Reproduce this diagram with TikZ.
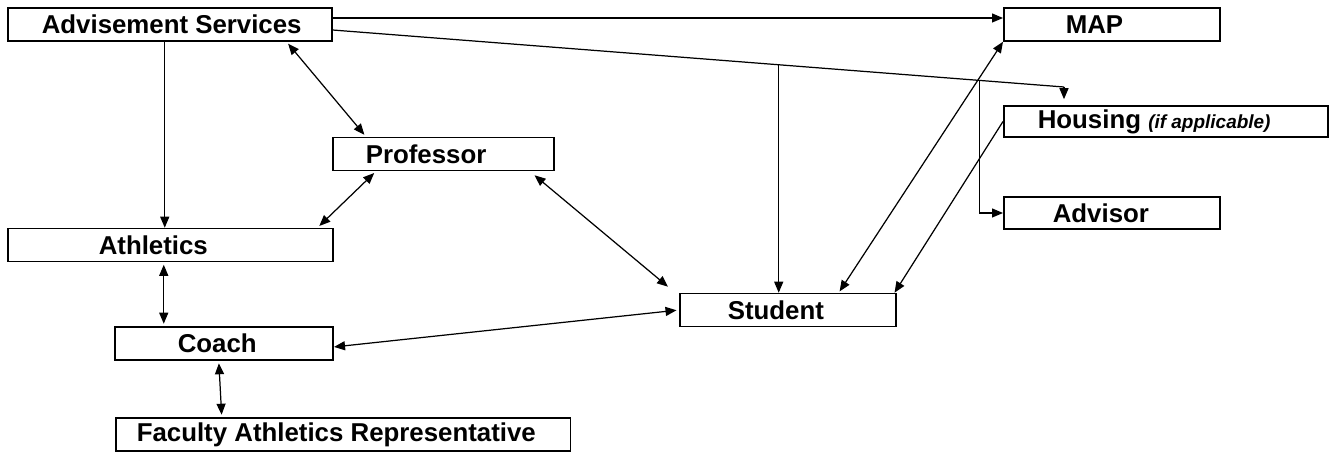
\documentclass[tikz,border=0pt]{standalone}
\usepackage{fontspec}
\setmainfont{Liberation Sans}
\usepackage{tikz}
\usetikzlibrary{arrows.meta,positioning}
\tikzset
{
  infobox/.style = {draw=black, line width=0.9pt, anchor=west, minimum height=0.66cm, align=flush left, inner ysep=0pt, font=\bfseries\fontsize{14.7}{17}\selectfont},
  link/.style    = {line width=0.7pt}
}

\begin{document}
\begin{tikzpicture}[x=0.02cm,y=-0.02cm,>={Triangle[length=2.2mm,width=1.8mm]}]
            \useasboundingbox (0,0) rectangle (1330,455);
            % boxes
            \node [infobox, text width=5.12cm, inner xsep=0.68cm] (adv) at (7,24.5) {\mbox{Advisement Services}};
            \node [infobox, text width=1.84cm, inner xsep=1.24cm] (map) at (1003,24.5) {\mbox{MAP}};
            \node [infobox, text width=5.12cm, inner xsep=0.68cm, minimum height=0.62cm] (housing) at (1003,121.5) {\mbox{Housing {\itshape\fontsize{10.8}{12}\selectfont (if applicable)}}};
            \node [infobox, text width=2.36cm, inner xsep=0.98cm, minimum height=0.64cm] (advisor) at (1003,213) {\mbox{Advisor}};
            \node [infobox, text width=3.10cm, inner xsep=0.66cm] (prof) at (332,154) {\mbox{Professor}};
            \node [infobox, text width=2.86cm, inner xsep=1.82cm] (ath) at (7,245) {\mbox{Athletics}};
            \node [infobox, text width=1.84cm, inner xsep=1.26cm] (coach) at (114,343.5) {\mbox{Coach}};
            \node [infobox, text width=8.26cm, inner xsep=0.42cm] (far) at (115,434.5) {\mbox{Faculty Athletics Representative}};
            \node [infobox, text width=2.40cm, inner xsep=0.96cm] (student) at (679,310) {\mbox{Student}};

            % links from advisement services
            \draw [link,->] ([yshift=1.3mm]adv.east) -- ([yshift=1.3mm]map.west);
            \coordinate (hs) at (1064,87);
            \draw [link] ([yshift=-1.1mm]adv.east) -- coordinate[pos=0.61] (tostu) coordinate[pos=0.885] (toadv) (hs);
            \draw [link,->,shorten >=1.2mm] (hs) -- (hs |- housing.north);
            \draw [link,->] (tostu) -- (tostu |- student.north);
            \draw [link,->] (toadv) |- (advisor.west);
            \draw [link,->] ([xshift=-1mm]adv.south) -- ([xshift=-1mm]adv.south |- ath.north);
            \draw [link,<->,shorten <=0.5mm,shorten >=0.5mm] ([xshift=-9.2mm]adv.south east) -- ([xshift=6.8mm]prof.north west);

            % professor
            \draw [link,<->,shorten <=0.5mm,shorten >=0.5mm] ([xshift=8.8mm]prof.south west) -- ([xshift=-3.2mm]ath.north east);
            \draw [link,<->] ([shift={(-4mm,-0.8mm)}]prof.south east) -- ([shift={(-2.2mm,1.2mm)}]student.north west);

            % athletics side
            \draw [link,<->,shorten <=0.5mm,shorten >=0.5mm] ([xshift=-1.3mm]ath.south) -- ([xshift=-1.3mm]ath.south |- coach.north);
            \draw [link,<->,shorten <=0.5mm,shorten >=0.5mm] ([xshift=-1mm]coach.south) -- ([xshift=-2.43cm]far.north);
            \draw [link,<->,shorten <=0.1mm,shorten >=0.5mm] ([yshift=-0.7mm]coach.east) -- (student.west);

            % student
            \draw [link,<->,shorten <=0.3mm] ([xshift=10.2mm]student.north) -- (map.south west);
            \draw [link,->] (housing.west) -- ([xshift=-0.4mm]student.north east);
\end{tikzpicture}
\end{document}
